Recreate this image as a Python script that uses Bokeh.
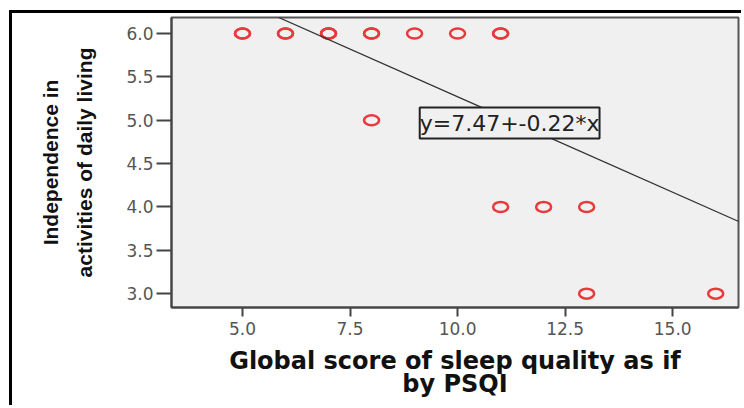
from bokeh.plotting import figure
from bokeh.models import Range1d, LinearAxis, FixedTicker, Slope, Label, PrintfTickFormatter
from bokeh.embed import file_html
from bokeh.resources import INLINE

# data: PSQI global score vs independence score
psqi = [5, 5, 6, 6, 7, 7, 7, 8, 8, 9, 10, 11, 11, 8, 11, 12, 13, 13, 16]
adl = [6, 6, 6, 6, 6, 6, 6, 6, 6, 6, 6, 6, 6, 5, 4, 4, 4, 3, 3]
intercept = 7.47
slope = -0.22
x_ticks = [5.0, 7.5, 10.0, 12.5, 15.0]
y_ticks = [3.0, 3.5, 4.0, 4.5, 5.0, 5.5, 6.0]
x_title = "Global score of sleep quality as if"
x_title2 = "by PSQI"
y_title = "Independence in"
y_title2 = "activities of daily living"
eq_text = "y=7.47+-0.22*x"

p = figure(width=732, height=395, output_backend="svg", toolbar_location=None,
           x_range=Range1d(3.35, 16.53), y_range=Range1d(2.84, 6.185),
           min_border_left=159, min_border_top=4, min_border_right=6, min_border_bottom=101,
           x_axis_location=None, y_axis_location=None)
p.background_fill_color = "#f0f0f0"
p.border_fill_color = "white"
p.outline_line_color = "#555555"
p.outline_line_width = 2
p.grid.visible = False
p.styles = {"margin-left": "9px", "margin-top": "10px",
            "border-top": "3px solid black", "border-left": "3px solid black"}

tick_font = "DejaVu Sans"

# x axes
xa = LinearAxis(ticker=FixedTicker(ticks=x_ticks), axis_label=x_title,
                formatter=PrintfTickFormatter(format="%.1f"))
xa.axis_line_color = "#444444"
xa.axis_line_width = 2
xa.major_tick_line_color = "#444444"
xa.major_tick_line_width = 2
xa.major_tick_out = 9
xa.major_tick_in = 0
xa.minor_tick_line_color = None
xa.major_label_text_font = tick_font
xa.major_label_text_font_size = "17px"
xa.major_label_text_color = "#555555"
xa.major_label_standoff = 5
xa.axis_label_text_font = "DejaVu Sans"
xa.axis_label_text_font_style = "bold"
xa.axis_label_text_font_size = "24px"
xa.axis_label_text_color = "#111111"
xa.axis_label_standoff = 9
p.add_layout(xa, "below")

xa2 = LinearAxis(ticker=FixedTicker(ticks=[]), axis_label=x_title2)
xa2.axis_line_color = None
xa2.major_tick_out = 0
xa2.major_tick_in = 0
xa2.minor_tick_out = 0
xa2.minor_tick_in = 0
xa2.major_label_text_font_size = "0px"
xa2.axis_label_text_font = "DejaVu Sans"
xa2.axis_label_text_font_style = "bold"
xa2.axis_label_text_font_size = "24px"
xa2.axis_label_text_color = "#111111"
xa2.axis_label_standoff = -8
p.add_layout(xa2, "below")

# y axes
ya = LinearAxis(ticker=FixedTicker(ticks=y_ticks), axis_label=y_title2,
                formatter=PrintfTickFormatter(format="%.1f"))
ya.axis_line_color = "#444444"
ya.axis_line_width = 2
ya.major_tick_line_color = "#444444"
ya.major_tick_line_width = 2
ya.major_tick_out = 15
ya.major_tick_in = 0
ya.minor_tick_line_color = None
ya.major_label_text_font = tick_font
ya.major_label_text_font_size = "17px"
ya.major_label_text_color = "#555555"
ya.major_label_standoff = 3
ya.axis_label_text_font = "Liberation Sans"
ya.axis_label_text_font_style = "bold"
ya.axis_label_text_font_size = "21px"
ya.axis_label_text_color = "#111111"
ya.axis_label_standoff = 27
p.add_layout(ya, "left")

ya2 = LinearAxis(ticker=FixedTicker(ticks=[]), axis_label=y_title)
ya2.axis_line_color = None
ya2.major_tick_out = 0
ya2.major_tick_in = 0
ya2.minor_tick_out = 0
ya2.minor_tick_in = 0
ya2.major_label_text_font_size = "0px"
ya2.axis_label_text_font = "Liberation Sans"
ya2.axis_label_text_font_style = "bold"
ya2.axis_label_text_font_size = "21px"
ya2.axis_label_text_color = "#111111"
ya2.axis_label_standoff = 9
p.add_layout(ya2, "left")

# regression line
p.add_layout(Slope(gradient=slope, y_intercept=intercept, line_color="#333333", line_width=1.3))

# points
p.ellipse(x=psqi, y=adl, width=15, height=10, width_units="screen", height_units="screen",
          fill_color=None, line_color="#e8393b", line_width=2.5)

# equation label
lab = Label(x=9.12, y=4.968, text=eq_text, anchor="center_left",
            text_font="DejaVu Sans", text_font_size="22px", text_color="#222222",
            background_fill_color="#f0f0f0", border_line_color="#222222", border_line_width=2,
            padding=(0, 3))
p.add_layout(lab)

open("out.html", "w").write(file_html(p, INLINE))
